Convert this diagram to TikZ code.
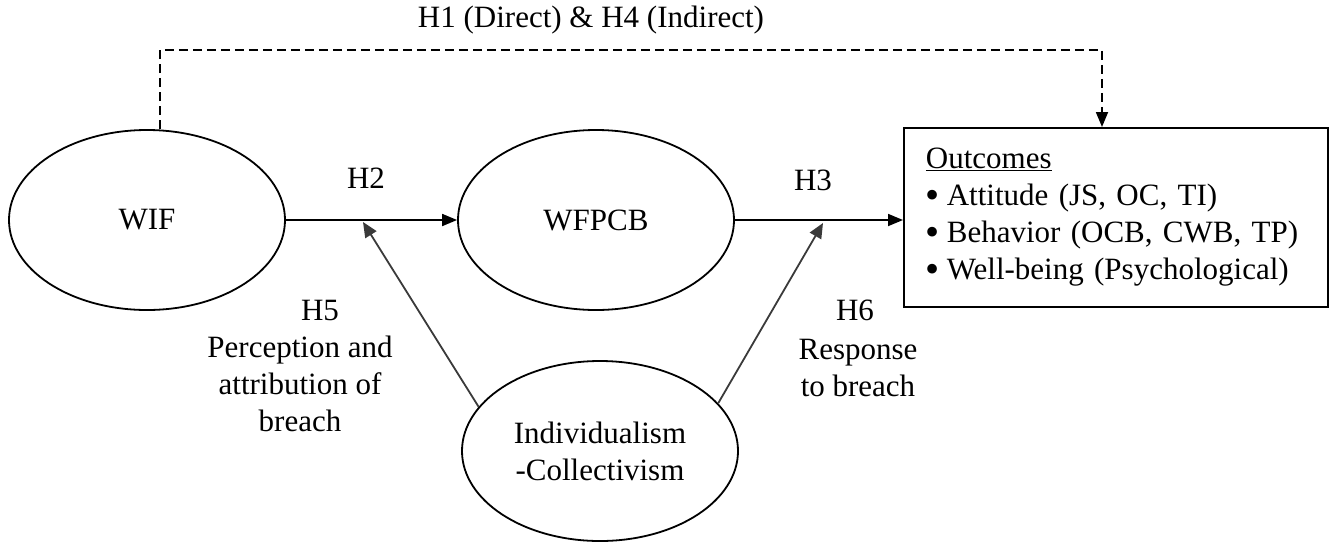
\documentclass[tikz,border=0pt]{standalone}
\usepackage{fontspec}
\usepackage{graphicx}
\setmainfont{Liberation Serif}
\usetikzlibrary{shapes.geometric,arrows.meta}
\newcommand\bigbul{\raisebox{-0.09em}{\scalebox{1.3}{\textbullet}}\hspace{0.22em}}
\begin{document}
\begin{tikzpicture}[x=1pt,y=-1pt,
  every node/.style={font=\fontsize{31}{37}\selectfont},
  construct/.style={draw, ellipse, line width=1.8pt, minimum width=276pt, minimum height=180pt, inner sep=0pt, align=center},
  mainarrow/.style={line width=1.8pt, -{Triangle[length=15pt,width=12pt]}},
  modarrow/.style={line width=1.8pt, draw={rgb,255:red,58;green,58;blue,58}, -{Triangle[length=15pt,width=13pt]}},
  dasharrow/.style={line width=1.8pt, dash pattern=on 9pt off 5pt, -{Triangle[length=15pt,width=12pt]}},
  lbl/.style={inner sep=0pt, align=center}
]
\useasboundingbox (0,0) rectangle (1334,547);

\node[construct] (wif) at (147,220) {WIF};
\node[construct] (wfpcb) at (596,220) {WFPCB};
\node[construct] (ic) at (600,451) {Individualism\\-Collectivism};

\node[draw, line width=1.8pt, anchor=north west, minimum width=424pt, minimum height=179pt,
      inner xsep=22pt, inner ysep=0pt, text width=380pt, align=left] (out) at (903,127)
  {\underline{Outcomes}\\
   \bigbul Attitude (JS, OC, TI)\\
   \bigbul Behavior (OCB, CWB, TP)\\
   \bigbul Well-being (Psychological)};

\draw[mainarrow] (wif.east) -- (wfpcb.west);
\draw[mainarrow] (wfpcb.east) -- (out.west |- wfpcb.east);

\coordinate (m1) at (363,222);
\coordinate (m2) at (823,223);
\draw[modarrow] (ic.160) -- (m1);
\draw[modarrow] (ic.22) -- (m2);

\coordinate (d1) at (160,50);
\coordinate (d2) at (1102,50);
\draw[dasharrow] (wif.north -| d1) -- (d1) -- (d2) -- (out.north -| d2);

\node[lbl] (h14) at (591,20) {H1 (Direct) \& H4 (Indirect)};
\node[lbl] (h2) at (366,178) {H2};
\node[lbl] (h3) at (813,180) {H3};
\node[lbl] (h5) at (320,310) {H5};
\node[lbl] (h5t) at (300,384) {Perception and\\attribution of\\breach};
\node[lbl] (h6) at (855,310) {H6};
\node[lbl] (h6t) at (858,368) {Response\\to breach};
\end{tikzpicture}
\end{document}
